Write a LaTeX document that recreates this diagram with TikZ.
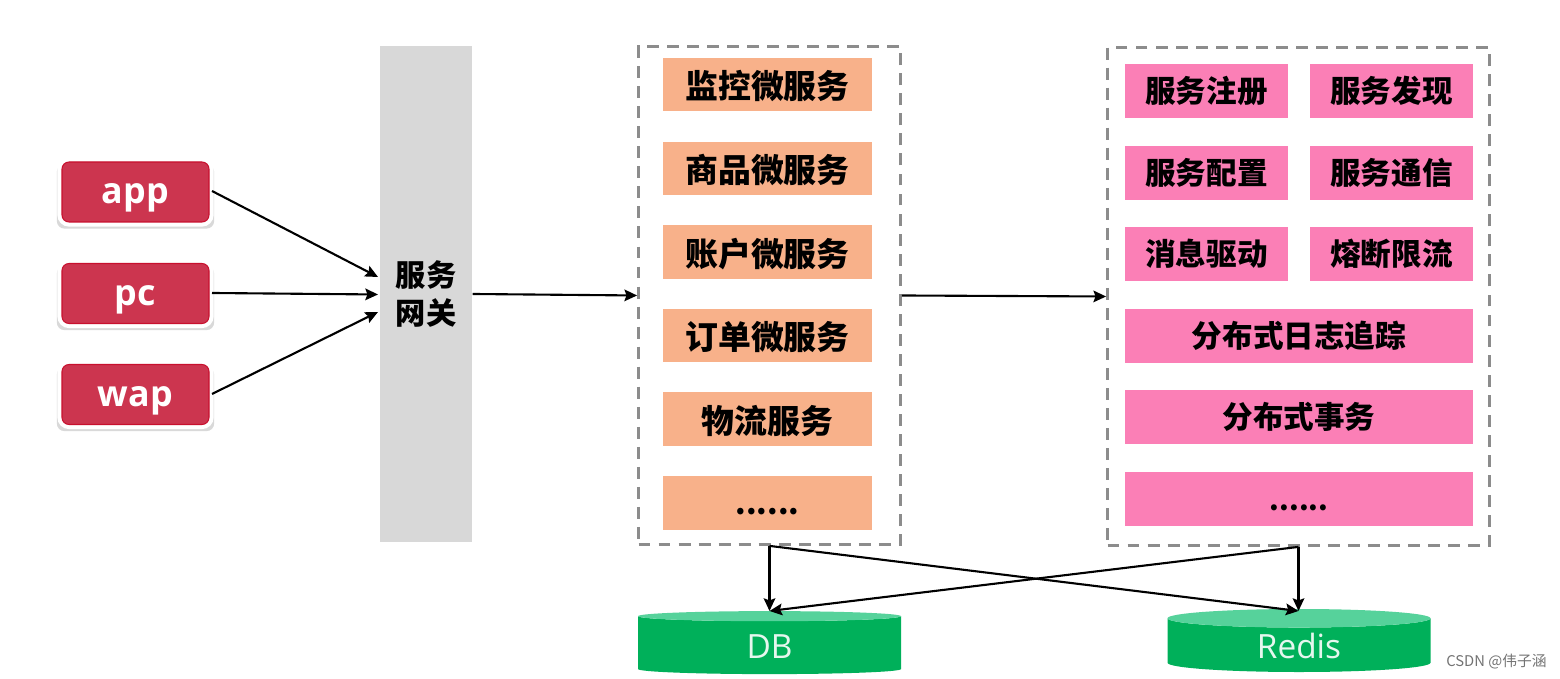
\documentclass[tikz,border=0pt]{standalone}
\usepackage{fontspec}
\setmainfont{Open Sans}
\newfontfamily\cjk[BoldFont={Noto Sans CJK SC Black}]{Noto Sans CJK SC}
\usetikzlibrary{arrows.meta,shapes.geometric,shadows}
\definecolor{clientred}{HTML}{CC354F}
\definecolor{clientline}{HTML}{C8102E}
\definecolor{gategray}{HTML}{D8D8D8}
\definecolor{svcorange}{HTML}{F8B18A}
\definecolor{infrapink}{HTML}{FB7FB6}
\definecolor{dbgreen}{HTML}{00B05A}
\definecolor{dbtop}{HTML}{56D29B}
\tikzset{
	client/.style={rectangle, rounded corners=2pt, fill=clientred, draw=clientline, line width=0.3pt, text=white,
		font=\fontsize{10.2}{10.2}\selectfont\bfseries, minimum width=14.7mm, minimum height=6mm, text height=7.6pt, text depth=1pt,
		drop shadow={shadow xshift=0pt, shadow yshift=-1.2pt, shadow scale=1.07, opacity=0.3},
		preaction={draw=white, line width=2.6pt}},
	gate/.style={rectangle, fill=gategray, font=\cjk\fontsize{8.6}{11}\selectfont\bfseries, align=center, minimum width=9.2mm, minimum height=49.6mm},
	group/.style={rectangle, draw=black!45, line width=0.8pt, dash pattern=on 3.4pt off 2.3pt},
	svc/.style={rectangle, fill=svcorange, font=\cjk\fontsize{9.35}{9.35}\selectfont\bfseries, minimum width=20.9mm, minimum height=5.35mm, inner ysep=0pt, text height=9pt, text depth=0.8pt},
	infra/.style={rectangle, fill=infrapink, font=\cjk\fontsize{8.7}{8.7}\selectfont\bfseries, minimum height=5.4mm},
	dots/.style={text height=6.4pt, text depth=0pt},
	store/.style={cylinder, shape border rotate=90, aspect=0.22, cylinder uses custom fill, cylinder body fill=dbgreen,
		cylinder end fill=dbtop, text=white!90!dbgreen, font=\fontsize{9.5}{9.5}\selectfont, minimum width=26.3mm, minimum height=6.3mm, inner sep=0pt, text height=7.4pt, text depth=0pt},
	link/.style={-{Stealth[length=3.6pt,width=3.3pt,inset=0.6pt]}, black, line width=0.6pt}
}
\begin{document}
\begin{tikzpicture}[x=0.1mm,y=-0.1mm]
	\useasboundingbox (0,0) rectangle (1560,679);

	% клиенты
	\node [client] (app) at (135.5,192) {app};
	\node [client] (pc) at (135.5,293.5) {pc};
	\node [client] (wap) at (135.5,394.5) {wap};

	% шлюз
	\node [gate] (gw) at (426,294) {服务\\网关};

	% группы
	\node [group, minimum width=26.2mm, minimum height=49.8mm] (svcgroup) at (769.5,295.5) {};
	\node [group, minimum width=38.2mm, minimum height=49.8mm] (infragroup) at (1298.5,296.5) {};

	\node [svc] (s1) at (767.5,84.5) {监控微服务};
	\node [svc] (s2) at (767.5,168.5) {商品微服务};
	\node [svc] (s3) at (767.5,252) {账户微服务};
	\node [svc] (s4) at (767.5,335.5) {订单微服务};
	\node [svc] (s5) at (767.5,419) {物流服务};
	\node [svc, dots, font=\cjk\fontsize{8.6}{8.6}\selectfont\bfseries] (s6) at (767.5,503) {......};

	\node [infra, minimum width=16.3mm] (i1) at (1206.5,91) {服务注册};
	\node [infra, minimum width=16.3mm] (i2) at (1391.5,91) {服务发现};
	\node [infra, minimum width=16.3mm] (i3) at (1206.5,173) {服务配置};
	\node [infra, minimum width=16.3mm] (i4) at (1391.5,173) {服务通信};
	\node [infra, minimum width=16.3mm] (i5) at (1206.5,254) {消息驱动};
	\node [infra, minimum width=16.3mm] (i6) at (1391.5,254) {熔断限流};
	\node [infra, minimum width=34.8mm] (i7) at (1299,336) {分布式日志追踪};
	\node [infra, minimum width=34.8mm] (i8) at (1299,417) {分布式事务};
	\node [infra, dots, minimum width=34.8mm, font=\cjk\fontsize{7.9}{7.9}\selectfont\bfseries] (i9) at (1299,499) {......};

	% хранилища
	\node [store] (db) at (769.5,645.5) {DB};
	\node [store] (redis) at (1299,645.5) {Redis};
	\node [text=black!55, font=\cjk\fontsize{4.2}{4.2}\selectfont] (mark) at (1496.5,662) {CSDN @伟子涵};

	% стрелки
	\coordinate (gwa) at (378,277);
	\coordinate (gwb) at (378,294.5);
	\coordinate (gwc) at (378,312);
	\coordinate (appout) at (212,191);
	\coordinate (pcout) at (212,293);
	\coordinate (wapout) at (212,394);
	\draw [link] (appout) -- (gwa);
	\draw [link] (pcout) -- (gwb);
	\draw [link] (wapout) -- (gwc);
	\draw [link] (gw.east) -- (svcgroup.west);
	\draw [link] (svcgroup.east) -- (infragroup.west);

	\coordinate (dbin) at (769.5,611);
	\coordinate (redisin) at (1298.5,611);
	\draw [link] (svcgroup.south) -- (dbin);
	\draw [link] (svcgroup.south) -- (redisin);
	\draw [link] (infragroup.south) -- (dbin);
	\draw [link] (infragroup.south) -- (redisin);
\end{tikzpicture}
\end{document}
